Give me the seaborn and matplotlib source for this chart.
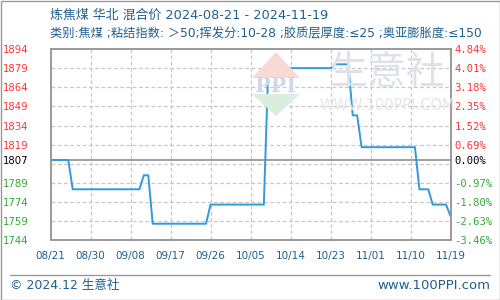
import matplotlib
matplotlib.use("Agg")
import matplotlib.pyplot as plt
import seaborn as sns
import pandas as pd
import numpy as np
from matplotlib.patches import Polygon, Rectangle
from matplotlib.lines import Line2D

# ---- data ----
start_date = "2024-08-21"
day_offsets = [0, 4, 5, 20, 21, 22, 23, 35, 36, 48, 49, 63, 64, 67, 68, 69, 70, 82, 83, 85, 86, 89, 90]
prices = [1807, 1807, 1784, 1784, 1795, 1795, 1757, 1757, 1772, 1772, 1879, 1879, 1882, 1882,
          1842, 1842, 1817, 1817, 1784, 1784, 1772, 1772, 1763]
base_value = 1807
left_ticks = [1744, 1759, 1774, 1789, 1807, 1819, 1834, 1849, 1864, 1879, 1894]
right_labels = ["-3.46%", "-2.63%", "-1.80%", "-0.97%", "0.00%", "0.69%", "1.52%", "2.35%",
                "3.18%", "4.01%", "4.84%"]
grid_levels = [1759, 1774, 1789, 1804, 1819, 1834, 1849, 1864, 1879]
x_tick_labels = ["08/21", "08/30", "09/08", "09/17", "09/26", "10/05", "10/14", "10/23",
                 "11/01", "11/10", "11/19"]
title1 = "炼焦煤 华北 混合价 2024-08-21 - 2024-11-19"
title2 = "类别:焦煤 ;粘结指数: ＞50;挥发分:10-28 ;胶质层厚度:≤25 ;奥亚膨胀度:≤150"
footer_left = "© 2024.12 生意社"
footer_right = "www.100PPI.com"

dates = pd.to_datetime(start_date) + pd.to_timedelta(day_offsets, unit="D")
df = pd.DataFrame({"date": dates, "price": prices})
tick_dates = pd.to_datetime(start_date) + pd.to_timedelta(np.arange(0, 91, 9), unit="D")

sns.set_style("white")
plt.rcParams["font.family"] = ["Noto Sans CJK SC", "DejaVu Sans"]

W, H = 500, 300
fig = plt.figure(figsize=(5, 3), dpi=100)
ax = fig.add_axes([50.5 / W, 1 - 240.3 / H, 400 / W, (240.3 - 49) / H])

cj = ["Noto Sans CJK SC", "DejaVu Sans"]
mixed = ["DejaVu Sans", "Noto Sans CJK SC"]
blue_txt = "#1f5f8f"
red = "#ff3333"
green = "#33aa33"

# watermark
wm_tri_up = Polygon([(0.504, 1 - 78 / H), (0.552, 1 - 52 / H), (0.600, 1 - 78 / H)],
                    closed=True, transform=fig.transFigure, facecolor="#f8d9d3", edgecolor="none", zorder=0)
wm_tri_dn = Polygon([(0.504, 1 - 94 / H), (0.552, 1 - 116 / H), (0.600, 1 - 94 / H)],
                    closed=True, transform=fig.transFigure, facecolor="#d9eedc", edgecolor="none", zorder=0)
fig.patches.extend([wm_tri_up, wm_tri_dn])
fig.text(0.552, 1 - 86 / H, "PPI", ha="center", va="center", fontsize=15, fontweight="bold",
         color="#cfd8ea", family=["DejaVu Serif"], zorder=0)
fig.text(0.775, 1 - 73 / H, "生意社", ha="center", va="center", fontsize=28, color="#dde1ec",
         family=cj, zorder=0)
fig.text(0.775, 1 - 105 / H, "WWW.100PPI.COM", ha="center", va="center", fontsize=10.5,
         color="#e6e6e6", family=["DejaVu Sans"], zorder=0)
ax.set_facecolor("none")

# grid
for g in grid_levels:
    ax.axhline(g, color="#c8c8c8", lw=0.9, ls=(0, (3, 2)), zorder=1)
for d in tick_dates[1:-1]:
    ax.axvline(d, color="#c8c8c8", lw=0.9, ls=(0, (3, 2)), zorder=1)
ax.axhline(base_value, color="#999999", lw=1.3, zorder=2)

sns.lineplot(data=df, x="date", y="price", ax=ax, color="#3399dd", lw=1.4, zorder=3)

ax.set_xlim(tick_dates[0], tick_dates[-1])
ax.set_ylim(left_ticks[0], left_ticks[-1])
ax.set_xlabel("")
ax.set_ylabel("")

ax.set_yticks(left_ticks)
ax.set_yticklabels([str(v) for v in left_ticks], family=["DejaVu Sans"], fontsize=7.3)
for lab, v in zip(ax.get_yticklabels(), left_ticks):
    lab.set_color(red if v > base_value else ("black" if v == base_value else green))
ax.tick_params(axis="y", length=0, pad=16)

ax.set_xticks(tick_dates)
ax.set_xticklabels(x_tick_labels, family=["DejaVu Sans"], fontsize=7.5, color=blue_txt)
ax.tick_params(axis="x", length=0, pad=8)

ax2 = ax.twinx()
ax2.set_ylim(left_ticks[0], left_ticks[-1])
ax2.set_yticks(left_ticks)
ax2.set_yticklabels(right_labels, family=["DejaVu Sans Mono"], fontsize=7.6)
for lab, v in zip(ax2.get_yticklabels(), left_ticks):
    lab.set_color(red if v > base_value else ("black" if v == base_value else green))
ax2.tick_params(axis="y", length=0, pad=3)

for a in (ax, ax2):
    for s in a.spines.values():
        s.set_color("#999999")
        s.set_linewidth(1.2)

# titles
fig.text(50 / W, 1 - 15 / H, title1, ha="left", va="center", fontsize=9.3, color=blue_txt, family=mixed)
fig.text(50 / W, 1 - 34 / H, title2, ha="left", va="center", fontsize=8.8, color=blue_txt, family=mixed)

# footer
fig.add_artist(Line2D([10 / W, 490 / W], [1 - 275 / H, 1 - 275 / H], transform=fig.transFigure,
                      color="#999999", lw=1))
fig.text(10 / W, 1 - 285.5 / H, footer_left, ha="left", va="center", fontsize=9.0, color=blue_txt, family=mixed)
fig.text(490 / W, 1 - 285.5 / H, footer_right, ha="right", va="center", fontsize=9.5, color=blue_txt,
         family=["DejaVu Sans"])

# outer border
fig.patches.append(Rectangle((0.5 / W, 0.5 / H), 1 - 1 / W, 1 - 1 / H, transform=fig.transFigure,
                             fill=False, edgecolor="#999999", lw=1))

fig.savefig("out.png", dpi=100)
